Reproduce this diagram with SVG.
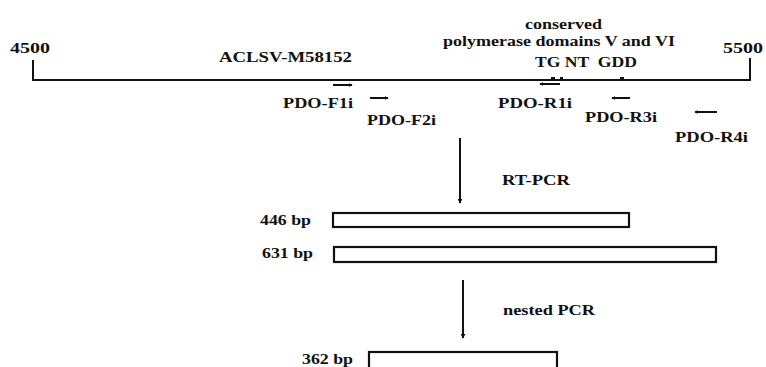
<svg xmlns="http://www.w3.org/2000/svg" width="766" height="367" viewBox="0 0 766 367">
<style>
text{font-family:'Liberation Serif','Times New Roman',Times,serif;font-weight:700;fill:#111;}
.t{font-size:15.5px;}
.s{font-size:14.5px;}
.ln{stroke:#111;stroke-width:2;fill:none;}
.box{stroke:#111;stroke-width:2.2;fill:#fff;}
.pr{stroke:#111;stroke-width:2;fill:none;}
</style>
<defs>
<marker id="ah" viewBox="0 0 6 6" refX="5" refY="3" markerWidth="5" markerHeight="5" orient="auto" markerUnits="userSpaceOnUse">
<path d="M0,0 L6,3 L0,6 z" fill="#111"/>
</marker>
<marker id="ah2" viewBox="0 0 6 6" refX="5" refY="3" markerWidth="4" markerHeight="4" orient="auto" markerUnits="userSpaceOnUse">
<path d="M0,0 L6,3 L0,6 z" fill="#111"/>
</marker>
</defs>

<g id="genome">
<path class="ln" d="M33,60 V80 H750 V58"/>
<text class="s" x="10" y="53" textLength="40" lengthAdjust="spacingAndGlyphs">4500</text>
<text class="s" x="723" y="53" textLength="40" lengthAdjust="spacingAndGlyphs">5500</text>
<text class="t" x="219" y="62" textLength="133" lengthAdjust="spacingAndGlyphs">ACLSV-M58152</text>
<text class="s" x="525" y="29" textLength="77" lengthAdjust="spacingAndGlyphs">conserved</text>
<text class="s" x="443" y="46" textLength="232" lengthAdjust="spacingAndGlyphs">polymerase domains V and VI</text>
<text class="s" x="535" y="67" textLength="102" lengthAdjust="spacingAndGlyphs" xml:space="preserve">TG NT  GDD</text>
<g fill="#111"><rect x="551" y="77" width="4" height="2"/><rect x="560" y="77" width="3" height="2"/><rect x="620" y="77" width="4" height="2"/></g>
</g>

<g id="primer-F1i">
<line class="pr" x1="333" y1="85" x2="352" y2="85" marker-end="url(#ah2)"/>
<text class="t" x="283" y="108" textLength="70" lengthAdjust="spacingAndGlyphs">PDO-F1i</text>
</g>
<g id="primer-F2i">
<line class="pr" x1="370" y1="98" x2="388" y2="98" marker-end="url(#ah2)"/>
<text class="t" x="367" y="125" textLength="69" lengthAdjust="spacingAndGlyphs">PDO-F2i</text>
</g>
<g id="primer-R1i">
<line class="pr" x1="560" y1="84" x2="540" y2="84" marker-end="url(#ah2)"/>
<text class="t" x="498" y="108" textLength="74" lengthAdjust="spacingAndGlyphs">PDO-R1i</text>
</g>
<g id="primer-R3i">
<line class="pr" x1="630" y1="98" x2="612" y2="98" marker-end="url(#ah2)"/>
<text class="t" x="585" y="122" textLength="72" lengthAdjust="spacingAndGlyphs">PDO-R3i</text>
</g>
<g id="primer-R4i">
<line class="pr" x1="717" y1="112" x2="695" y2="112" marker-end="url(#ah2)"/>
<text class="t" x="675" y="142" textLength="73" lengthAdjust="spacingAndGlyphs">PDO-R4i</text>
</g>

<g id="connectors">
<line class="ln" x1="460" y1="138" x2="460" y2="203" marker-end="url(#ah)"/>
<line class="ln" x1="463" y1="280" x2="463" y2="338" marker-end="url(#ah)"/>
</g>

<g id="step-rtpcr">
<text class="t" x="502" y="185" textLength="68" lengthAdjust="spacingAndGlyphs">RT-PCR</text>
</g>
<g id="product-446">
<rect class="box" x="333" y="213" width="296" height="14"/>
<text class="t" x="260" y="225" textLength="51" lengthAdjust="spacingAndGlyphs">446 bp</text>
</g>
<g id="product-631">
<rect class="box" x="334" y="247" width="382" height="15"/>
<text class="t" x="262" y="258" textLength="51" lengthAdjust="spacingAndGlyphs">631 bp</text>
</g>
<g id="step-nested">
<text class="t" x="503" y="315" textLength="92" lengthAdjust="spacingAndGlyphs">nested PCR</text>
</g>
<g id="product-362">
<rect class="box" x="369" y="352" width="188" height="20"/>
<text class="t" x="302" y="364" textLength="51" lengthAdjust="spacingAndGlyphs">362 bp</text>
</g>
</svg>
